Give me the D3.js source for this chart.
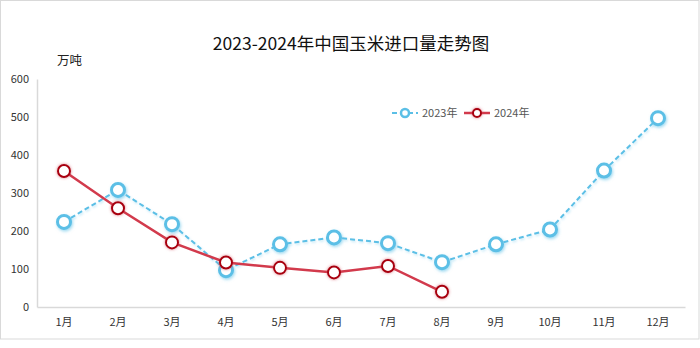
<!DOCTYPE html>
<html><head><meta charset="utf-8">
<script src="https://cdn.jsdelivr.net/npm/d3@7"></script>
<style>body{margin:0;background:#fff}svg{display:block}text{font-family:"Noto Sans CJK SC","Noto Sans",sans-serif}</style>
</head><body><svg id="c" width="700" height="348"></svg>
<script>
const months = ["1月","2月","3月","4月","5月","6月","7月","8月","9月","10月","11月","12月"];
const series2023 = [224,308,218,97,165,183,168,118,165,204,359,497];
const series2024 = [358,260,170,117,103,91,108,40];
const yTicks = [0,100,200,300,400,500,600];
const seriesNames = ["2023年","2024年"];

const svg = d3.select("#c");
const W=700,H=348;
svg.append("rect").attr("x",0.5).attr("y",0.5).attr("width",W-1.5).attr("height",338.5).attr("fill","#fff").attr("stroke","#d9d9d9");
const defs = svg.append("defs");
const f1 = defs.append("filter").attr("id","shB").attr("x","-50%").attr("y","-50%").attr("width","200%").attr("height","200%");
f1.append("feDropShadow").attr("dx",1).attr("dy",1.5).attr("stdDeviation",1.5).attr("flood-color","#5bbfe6").attr("flood-opacity",0.6);
const f2 = defs.append("filter").attr("id","shR").attr("x","-50%").attr("y","-50%").attr("width","200%").attr("height","200%");
f2.append("feDropShadow").attr("dx",0).attr("dy",0).attr("stdDeviation",1.5).attr("flood-color","#d04050").attr("flood-opacity",0.7);
const f3 = defs.append("filter").attr("id","shL").attr("x","-10%").attr("y","-10%").attr("width","120%").attr("height","120%");
f3.append("feDropShadow").attr("dx",1).attr("dy",1.5).attr("stdDeviation",1).attr("flood-color","#5bbfe6").attr("flood-opacity",0.35);

const x = d3.scaleBand().domain(months).range([37,685]);
const y = d3.scaleLinear().domain([0,600]).range([307,79]);

svg.append("text").attr("x",351).attr("y",50).attr("text-anchor","middle").attr("font-size",17.5).attr("fill","#111").text("2023-2024年中国玉米进口量走势图");
svg.append("text").attr("x",57).attr("y",65).attr("font-size",12.5).attr("fill","#222").text("万吨");

// axes
const yAxis = svg.append("g").attr("transform","translate(37,0)").call(d3.axisLeft(y).tickValues(yTicks).tickSize(0).tickPadding(8));
yAxis.select(".domain").attr("stroke","#d9d9d9").attr("stroke-width",1.5);
yAxis.selectAll("text").attr("font-size",11).attr("fill","#333").attr("font-family","\"Noto Sans\",sans-serif");
const xAxis = svg.append("g").attr("transform","translate(0,307)").call(d3.axisBottom(x).tickSize(0).tickPadding(11));
xAxis.select(".domain").attr("stroke","#d9d9d9").attr("stroke-width",1.5);
xAxis.selectAll("text").attr("font-size",11).attr("fill","#333");

const blue="#5bbfe6", red="#d23a4c", dred="#a80010";
const line = d3.line().x((d,i)=>x(months[i])+x.bandwidth()/2).y(d=>y(d));
svg.append("path").datum(series2023).attr("d",line).attr("fill","none").attr("stroke",blue).attr("stroke-width",2).attr("stroke-dasharray","5,3").attr("filter","url(#shL)");
svg.append("path").datum(series2024).attr("d",line).attr("fill","none").attr("stroke",red).attr("stroke-width",2.5);

svg.append("g").selectAll("circle").data(series2023).join("circle")
  .attr("cx",(d,i)=>x(months[i])+x.bandwidth()/2).attr("cy",d=>y(d)).attr("r",6.5)
  .attr("fill","#fff").attr("stroke",blue).attr("stroke-width",3).attr("filter","url(#shB)");
svg.append("g").selectAll("circle").data(series2024).join("circle")
  .attr("cx",(d,i)=>x(months[i])+x.bandwidth()/2).attr("cy",d=>y(d)).attr("r",6)
  .attr("fill","#fff").attr("stroke",dred).attr("stroke-width",2).attr("filter","url(#shR)");

// legend
const lg = svg.append("g").attr("transform","translate(392,113)");
lg.append("line").attr("x1",0).attr("x2",26).attr("stroke",blue).attr("stroke-width",2).attr("stroke-dasharray","5,3");
lg.append("circle").attr("cx",13).attr("r",4).attr("fill","#fff").attr("stroke",blue).attr("stroke-width",2.5);
lg.append("text").attr("x",30).attr("y",4).attr("font-size",11).attr("fill","#555").text(seriesNames[0]);
lg.append("line").attr("x1",72).attr("x2",98).attr("stroke",red).attr("stroke-width",2.5);
lg.append("circle").attr("cx",85).attr("r",4).attr("fill","#fff").attr("stroke",dred).attr("stroke-width",2).attr("filter","url(#shR)");
lg.append("text").attr("x",102).attr("y",4).attr("font-size",11).attr("fill","#555").text(seriesNames[1]);
</script></body></html>
